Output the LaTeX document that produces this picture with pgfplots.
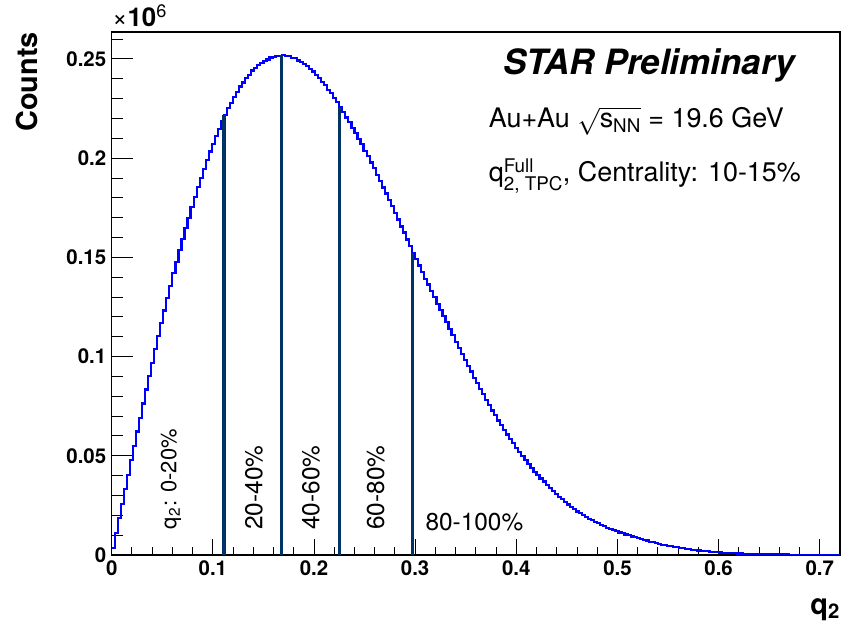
\documentclass[border=0pt]{standalone}
\usepackage{fix-cm}
\usepackage{amsmath}
\usepackage{fontspec}
\setmainfont{TeX Gyre Heros}
\usepackage{pgfplots}
\pgfplotsset{compat=1.18}
\definecolor{histblue}{RGB}{0,0,255}
\definecolor{cutnavy}{RGB}{0,51,102}
\newcommand{\fs}[1]{\fontsize{#1}{#1}\selectfont}

\begin{document}
\begin{tikzpicture}
\useasboundingbox (-111.7bp,-70bp) rectangle (732.3bp,555bp);
\begin{axis}[
  scale only axis, width=728.3bp, height=523bp,
  xmin=0, xmax=0.72, ymin=0, ymax=0.2636,
  axis line style={line width=1.3bp},
  tick align=inside, tick pos=left,
  xtick={0,0.1,0.2,0.3,0.4,0.5,0.6,0.7},
  minor xtick={0.02,0.04,0.06,0.08,0.12,0.14,0.16,0.18,0.22,0.24,0.26,0.28,0.32,0.34,0.36,0.38,0.42,0.44,0.46,0.48,0.52,0.54,0.56,0.58,0.62,0.64,0.66,0.68},
  ytick={0,0.05,0.1,0.15,0.2,0.25},
  minor ytick={0.01,0.02,0.03,0.04,0.06,0.07,0.08,0.09,0.11,0.12,0.13,0.14,0.16,0.17,0.18,0.19,0.21,0.22,0.23,0.24,0.26},
  major tick length=21bp, minor tick length=11bp,
  xtick style={/pgfplots/major tick length=16bp, /pgfplots/minor tick length=8bp},
  tick style={black, line width=1bp},
  scaled ticks=false,
  /pgf/number format/fixed, /pgf/number format/precision=2,
  /pgf/number format/assume math mode=true,
  tick label style={font=\fs{20.5}\bfseries},
  yticklabel style={xshift=-2bp},
  xticklabel style={yshift=-2bp},
]
% histogram, bins of 0.003, counts in units of 10^6
\addplot[const plot, histblue, line width=2.2bp] coordinates {
(0,0.0035)(0.003,0.0110)(0.006,0.0185)(0.009,0.0257)(0.012,0.0332)(0.015,0.0403)(0.018,0.0478)(0.021,0.0549)(0.024,0.0622)(0.027,0.0691)
(0.030,0.0764)(0.033,0.0834)(0.036,0.0902)(0.039,0.0969)(0.042,0.1038)(0.045,0.1103)(0.048,0.1170)(0.051,0.1232)(0.054,0.1297)(0.057,0.1357)
(0.060,0.1420)(0.063,0.1477)(0.066,0.1537)(0.069,0.1592)(0.072,0.1648)(0.075,0.1700)(0.078,0.1755)(0.081,0.1804)(0.084,0.1855)(0.087,0.1899)
(0.090,0.1947)(0.093,0.1990)(0.096,0.2034)(0.099,0.2072)(0.102,0.2113)(0.105,0.2149)(0.108,0.2185)(0.111,0.2218)(0.114,0.2252)(0.117,0.2280)
(0.120,0.2310)(0.123,0.2334)(0.126,0.2361)(0.129,0.2381)(0.132,0.2405)(0.135,0.2421)(0.138,0.2442)(0.141,0.2454)(0.144,0.2470)(0.147,0.2478)
(0.150,0.2491)(0.153,0.2497)(0.156,0.2507)(0.159,0.2510)(0.162,0.2516)(0.165,0.2514)(0.168,0.2519)(0.171,0.2513)(0.174,0.2513)(0.177,0.2506)
(0.180,0.2503)(0.183,0.2492)(0.186,0.2486)(0.189,0.2473)(0.192,0.2464)(0.195,0.2448)(0.198,0.2437)(0.201,0.2419)(0.204,0.2405)(0.207,0.2384)
(0.210,0.2368)(0.213,0.2345)(0.216,0.2327)(0.219,0.2302)(0.222,0.2282)(0.225,0.2255)(0.228,0.2233)(0.231,0.2205)(0.234,0.2182)(0.237,0.2152)
(0.240,0.2127)(0.243,0.2096)(0.246,0.2070)(0.249,0.2038)(0.252,0.2010)(0.255,0.1978)(0.258,0.1949)(0.261,0.1916)(0.264,0.1886)(0.267,0.1852)
(0.270,0.1822)(0.273,0.1788)(0.276,0.1757)(0.279,0.1722)(0.282,0.1691)(0.285,0.1656)(0.288,0.1625)(0.291,0.1590)(0.294,0.1559)(0.297,0.1524)
(0.300,0.1493)(0.303,0.1459)(0.306,0.1428)(0.309,0.1393)(0.312,0.1363)(0.315,0.1329)(0.318,0.1299)(0.321,0.1265)(0.324,0.1236)(0.327,0.1203)
(0.330,0.1174)(0.333,0.1138)(0.336,0.1108)(0.339,0.1074)(0.342,0.1045)(0.345,0.1012)(0.348,0.0984)(0.351,0.0952)(0.354,0.0925)(0.357,0.0894)
(0.360,0.0868)(0.363,0.0837)(0.366,0.0811)(0.369,0.0782)(0.372,0.0756)(0.375,0.0728)(0.378,0.0705)(0.381,0.0678)(0.384,0.0655)(0.387,0.0629)
(0.390,0.0607)(0.393,0.0583)(0.396,0.0563)(0.399,0.0539)(0.402,0.0520)(0.405,0.0497)(0.408,0.0479)(0.411,0.0457)(0.414,0.0440)(0.417,0.0420)
(0.420,0.0405)(0.423,0.0386)(0.426,0.0370)(0.429,0.0351)(0.432,0.0337)(0.435,0.0321)(0.438,0.0309)(0.441,0.0293)(0.444,0.0281)(0.447,0.0266)
(0.450,0.0255)(0.453,0.0241)(0.456,0.0232)(0.459,0.0219)(0.462,0.0211)(0.465,0.0200)(0.468,0.0193)(0.471,0.0183)(0.474,0.0176)(0.477,0.0167)
(0.480,0.0161)(0.483,0.0152)(0.486,0.0146)(0.489,0.0138)(0.492,0.0133)(0.495,0.0125)(0.498,0.0121)(0.501,0.0113)(0.504,0.0110)(0.507,0.0103)
(0.510,0.0100)(0.513,0.0093)(0.516,0.0090)(0.519,0.0084)(0.522,0.0081)(0.525,0.0075)(0.528,0.0073)(0.531,0.0067)(0.534,0.0065)(0.537,0.0059)
(0.540,0.0057)(0.543,0.0052)(0.546,0.0051)(0.549,0.0046)(0.552,0.0044)(0.555,0.0040)(0.558,0.0039)(0.561,0.0035)(0.564,0.0034)(0.567,0.0030)
(0.570,0.0029)(0.573,0.0026)(0.576,0.0025)(0.579,0.0023)(0.582,0.0022)(0.585,0.0020)(0.588,0.0019)(0.591,0.0017)(0.594,0.0016)(0.597,0.0014)
(0.600,0.0013)(0.603,0.0012)(0.606,0.0011)(0.609,0.0010)(0.612,0.00096)(0.615,0.00087)(0.618,0.00080)(0.621,0.00073)(0.624,0.00067)(0.627,0.00062)
(0.630,0.00057)(0.633,0.00052)(0.636,0.00048)(0.639,0.00044)(0.642,0.00040)(0.645,0.00037)(0.648,0.00034)(0.651,0.00031)(0.654,0.00029)(0.657,0.00027)
(0.660,0.00025)(0.663,0.00023)(0.666,0.00021)(0.669,0.00019)(0.672,0.00018)(0.675,0.00016)(0.678,0.00015)(0.681,0.00014)(0.684,0.00013)(0.687,0.00012)
(0.690,0.00011)(0.693,0.00010)(0.696,0.00009)(0.699,0.00008)(0.702,0.00008)(0.705,0.00007)(0.708,0.00006)(0.711,0.00006)(0.714,0.00005)(0.717,0.00005)
(0.720,0.00005)};
% centrality cut lines
\addplot[cutnavy, line width=3.2bp] coordinates {(0.111,0) (0.111,0.2218)};
\addplot[cutnavy, line width=3.2bp] coordinates {(0.168,0) (0.168,0.2519)};
\addplot[cutnavy, line width=3.2bp] coordinates {(0.225,0) (0.225,0.2255)};
\addplot[cutnavy, line width=3.2bp] coordinates {(0.297,0) (0.297,0.1524)};
% class labels
\node[rotate=90, anchor=base west, inner sep=0pt, font=\fs{22}] at (axis cs:0.0640,0.0130) {q\textsubscript{2}\hspace{0.05em}: 0-20\%};
\node[rotate=90, anchor=base west, inner sep=0pt, font=\fs{24.5}] at (axis cs:0.1489,0.0126) {20-40\%};
\node[rotate=90, anchor=base west, inner sep=0pt, font=\fs{24.5}] at (axis cs:0.2053,0.0126) {40-60\%};
\node[rotate=90, anchor=base west, inner sep=0pt, font=\fs{24.5}] at (axis cs:0.2692,0.0126) {60-80\%};
\node[anchor=base west, inner sep=0pt, font=\fs{24.5}] at (axis cs:0.3101,0.0123) {80-100\%};
\end{axis}
% texts around the frame (bp, frame lower left at origin)
\node[anchor=base east, inner sep=0pt, font=\fs{35}\bfseries\itshape] at (683bp,480bp) {STAR Preliminary};
\node[anchor=base west, inner sep=0pt, font=\fs{27}] at (377bp,427bp) {Au+Au $\sqrt{\text{s}_{\text{NN}}}$ = 19.6 GeV};
\node[anchor=base west, inner sep=0pt, font=\fs{27}] at (377bp,373bp) {$\text{q}^{\text{Full}}_{\text{2, TPC}}$, Centrality: 10-15\%};
\node[rotate=90, anchor=base east, inner sep=0pt, font=\fs{29}\bfseries] at (-73.7bp,523bp) {Counts};
\node[anchor=base east, inner sep=0pt, font=\fs{29}\bfseries] at (728.3bp,-59bp) {q\textsubscript{2}};
\node[anchor=base west, inner sep=0pt, font=\fs{26}] at (0.5bp,528bp) {×\textbf{10}\textsuperscript{6}};
\end{tikzpicture}
\end{document}
